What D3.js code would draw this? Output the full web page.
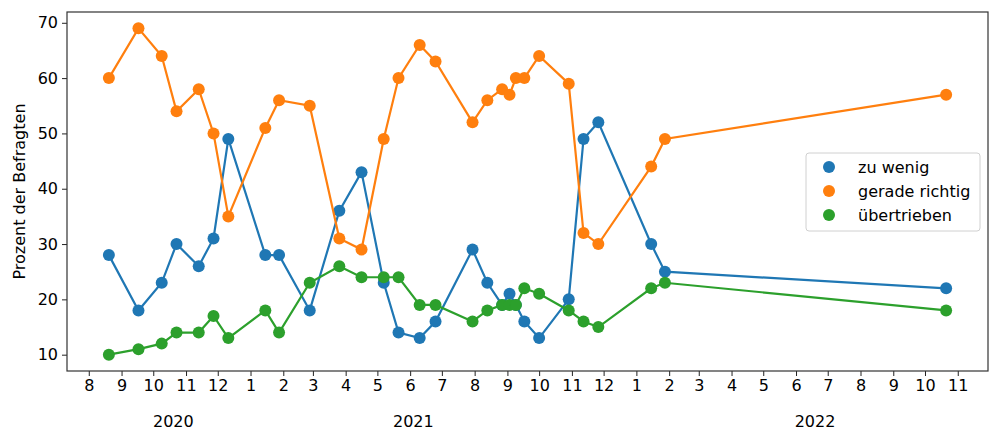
<!DOCTYPE html>
<html>
<head>
<meta charset="utf-8">
<script src="https://cdn.jsdelivr.net/npm/d3@7"></script>
<style>
  body { margin: 0; background: #fff; }
  svg { font-family: "DejaVu Sans", sans-serif; }
</style>
</head>
<body>
<div id="vis"></div>
<script>
'use strict';

// survey dates
var dates = ['2020-08-20','2020-09-17','2020-10-09','2020-10-23','2020-11-13','2020-11-27','2020-12-11',
             '2021-01-15','2021-01-28','2021-02-26','2021-03-26','2021-04-16','2021-05-07','2021-05-21',
             '2021-06-10','2021-06-25','2021-07-30','2021-08-13','2021-08-27','2021-09-03','2021-09-09',
             '2021-09-17','2021-10-01','2021-10-29','2021-11-12','2021-11-26','2022-01-15','2022-01-28',
             '2022-10-21'];
var zuWenig        = [28,18,23,30,26,31,49,28,28,18,36,43,23,14,13,16,29,23,19,21,19,16,13,20,49,52,30,25,22];
var geradeRichtig  = [60,69,64,54,58,50,35,51,56,55,31,29,49,60,66,63,52,56,58,57,60,60,64,59,32,30,44,49,57];
var uebertrieben   = [10,11,12,14,14,17,13,18,14,23,26,24,24,24,19,19,16,18,19,19,19,22,21,18,16,15,22,23,18];

var seriesNames  = ['zu wenig', 'gerade richtig', 'übertrieben'];
var seriesColors = ['#1f77b4', '#ff7f0e', '#2ca02c'];
var yTicks = [10, 20, 30, 40, 50, 60, 70];
var yearLabels = ['2020', '2021', '2022'];
var yearLabelDates = ['2020-10-20', '2021-06-04', '2022-06-19'];

var width = 1000, height = 442;
var margin = { top: 12, right: 12, bottom: 71, left: 67 };

var svg = d3.select('#vis').append('svg')
    .attr('width', width)
    .attr('height', height);

var parse = d3.utcParse('%Y-%m-%d');
var xDates = dates.map(parse);
var allSeries = [zuWenig, geradeRichtig, uebertrieben];

// matplotlib style 5% margins around the data
var xExt = d3.extent(xDates);
var xPad = (xExt[1] - xExt[0]) * 0.05;
var x = d3.scaleUtc()
    .domain([new Date(+xExt[0] - xPad), new Date(+xExt[1] + xPad)])
    .range([margin.left, width - margin.right]);

var yMin = d3.min(allSeries, function(s) { return d3.min(s); });
var yMax = d3.max(allSeries, function(s) { return d3.max(s); });
var yPad = (yMax - yMin) * 0.05;
var y = d3.scaleLinear()
    .domain([yMin - yPad, yMax + yPad])
    .range([height - margin.bottom, margin.top]);

// x axis: one tick per month, labelled with the month number
var xAxis = d3.axisBottom(x)
    .ticks(d3.utcMonth.every(1))
    .tickFormat(function(d) { return d.getUTCMonth() + 1; })
    .tickSize(5)
    .tickPadding(4);
var gx = svg.append('g')
    .attr('transform', 'translate(0,' + (height - margin.bottom) + ')')
    .call(xAxis);
gx.select('.domain').remove();
gx.selectAll('text').attr('font-size', '16px').attr('fill', '#000')
    .attr('font-family', '"DejaVu Sans", sans-serif');
gx.selectAll('line').attr('stroke', '#222').attr('stroke-width', 1);

var yAxis = d3.axisLeft(y)
    .tickValues(yTicks)
    .tickSize(5)
    .tickPadding(4);
var gy = svg.append('g')
    .attr('transform', 'translate(' + margin.left + ',0)')
    .call(yAxis);
gy.select('.domain').remove();
gy.selectAll('text').attr('font-size', '16px').attr('fill', '#000')
    .attr('font-family', '"DejaVu Sans", sans-serif');
gy.selectAll('line').attr('stroke', '#222').attr('stroke-width', 1);

// year labels under the month ticks
svg.append('g').selectAll('text')
    .data(yearLabels)
    .enter().append('text')
    .attr('x', function(d, i) { return x(parse(yearLabelDates[i])); })
    .attr('y', height - margin.bottom + 56)
    .attr('text-anchor', 'middle')
    .attr('font-size', '16px')
    .attr('fill', '#000')
    .text(function(d) { return d; });

// y axis label
svg.append('text')
    .attr('transform', 'translate(25,' + ((margin.top + height - margin.bottom) / 2) + ') rotate(-90)')
    .attr('text-anchor', 'middle')
    .attr('font-size', '16px')
    .attr('fill', '#000')
    .text('Prozent der Befragten');

// lines + markers, drawn in series order
var line = d3.line()
    .x(function(d, i) { return x(xDates[i]); })
    .y(function(d) { return y(d); });

allSeries.forEach(function(s, k) {
    var g = svg.append('g');
    g.append('path')
        .attr('d', line(s))
        .attr('fill', 'none')
        .attr('stroke', seriesColors[k])
        .attr('stroke-width', 2.2);
    g.selectAll('circle')
        .data(s)
        .enter().append('circle')
        .attr('cx', function(d, i) { return x(xDates[i]); })
        .attr('cy', function(d) { return y(d); })
        .attr('r', 6)
        .attr('fill', seriesColors[k]);
});

// frame
svg.append('rect')
    .attr('x', margin.left)
    .attr('y', margin.top)
    .attr('width', width - margin.left - margin.right)
    .attr('height', height - margin.top - margin.bottom)
    .attr('fill', 'none')
    .attr('stroke', '#333')
    .attr('stroke-width', 1.2);

// legend
var legend = svg.append('g').attr('transform', 'translate(806,153)');
legend.append('rect')
    .attr('width', 174)
    .attr('height', 78)
    .attr('rx', 3)
    .attr('fill', '#fff')
    .attr('fill-opacity', 0.8)
    .attr('stroke', '#d0d0d0')
    .attr('stroke-width', 1);
seriesNames.forEach(function(name, k) {
    var row = legend.append('g').attr('transform', 'translate(0,' + (14 + k * 24) + ')');
    row.append('circle')
        .attr('cx', 23)
        .attr('cy', 0)
        .attr('r', 6)
        .attr('fill', seriesColors[k]);
    row.append('text')
        .attr('x', 52)
        .attr('y', 0)
        .attr('dy', '0.35em')
        .attr('font-size', '16px')
        .attr('fill', '#000')
        .text(name);
});
</script>
</body>
</html>
